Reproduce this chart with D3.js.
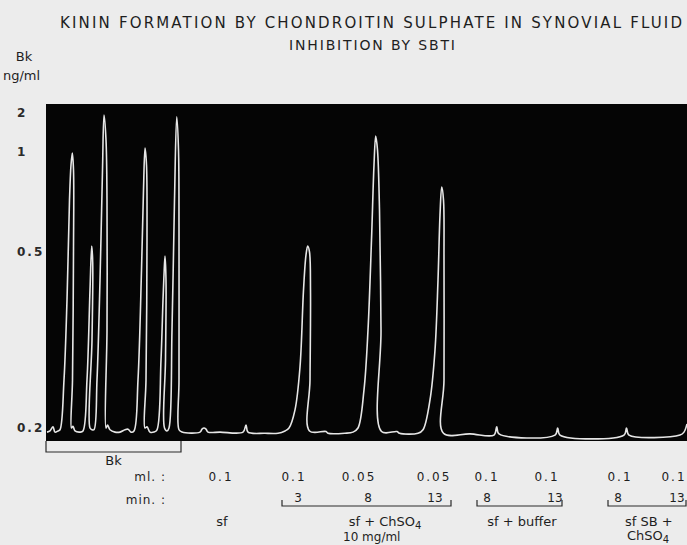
<!DOCTYPE html>
<html>
    <head>
        <title> Kinin formation by chondroitin sulphate in synovial fluid </title>
        <script src="https://d3js.org/d3.v7.min.js"></script>
        <style>
            body { margin: 0; background: #ececec; }
            text { font-family: "DejaVu Sans", sans-serif; fill: #1e1e1e; }
        </style>
    </head>

    <body>

        <div id="Trace"></div>

        <script type="text/javascript">

            // recorder trace: [chart position, Bk ng/ml]
            var trace = [
                [1,0.193],[4,0.195],[7,0.202],[9,0.193],[12,0.195],
                [14,0.197],[18,0.282],[21,0.418],[23.5,0.76],[25,0.935],[26.3,0.995],[27.5,0.91],[27.5,0.51],[26.5,0.282],[25.5,0.2],[27,0.203],[29,0.195],[34,0.193],
                [37,0.195],[41,0.282],[44,0.435],[45.7,0.53],[46.7,0.483],[46,0.35],[44,0.2],[46,0.197],
                [48,0.197],[51,0.282],[54,0.452],[56.5,0.91],[58,1.95],[60,1.31],[61,0.76],[61,0.367],[60,0.2],[61.5,0.205],[64,0.197],[69,0.193],
                [74,0.193],[79,0.197],[82,0.198],[85,0.193],
                [88,0.195],[92,0.282],[95.5,0.469],[97.5,0.81],[99,1.1],[100.5,0.935],[101,0.56],[100,0.282],[99,0.2],[101,0.202],[104,0.193],[108,0.193],
                [111,0.197],[115,0.316],[117,0.418],[118,0.461],[119,0.493],[120,0.452],[119.5,0.316],[118.5,0.2],[121,0.195],
                [123,0.2],[126,0.367],[128.5,0.76],[130.7,1.9],[132.5,1.05],[133,0.61],[133,0.282],[133,0.197],[136,0.193],
                [154,0.193],[156,0.198],[158,0.2],[160,0.198],[162,0.193],[174,0.193],[197,0.193],[200,0.205],[202,0.193],
                [219,0.191],[232,0.191],[239,0.195],
                [243,0.2],[249,0.231],[254,0.304],[257.5,0.435],[260,0.495],[261.7,0.53],[263.5,0.5],[264.5,0.435],[264,0.282],[263.5,0.195],
                [280,0.194],[282,0.191],[299,0.191],[307,0.193],
                [312,0.2],[318,0.265],[322,0.367],[325.5,0.56],[328,0.935],[329.7,1.41],[331.5,1.05],[333.5,0.71],[335,0.367],[335.5,0.194],
                [351,0.194],[353.5,0.191],[372,0.191],
                [377,0.197],[384,0.248],[389,0.333],[392,0.452],[394,0.685],[395.7,0.825],[397.5,0.76],[398,0.486],[398,0.282],[397.5,0.191],
                [424,0.19],[448,0.188],[450.7,0.202],[453,0.19],[509,0.188],[511.7,0.2],[514,0.188],
                [578,0.188],[580.5,0.2],[583,0.188],[634,0.188],[638,0.193],[641,0.207]
            ];

            var yTicks = [0.2, 0.5, 1, 2];
            var yTickLabels = ["0.2", "0.5", "1", "2"];

            var mlValues = ["0.1", "0.1", "0.05", "0.05", "0.1", "0.1", "0.1", "0.1"];
            var mlPos = [175, 248, 313, 388, 441, 501, 574, 628];

            var minValues = ["3", "8", "13", "8", "13", "8", "13"];
            var minPos = [252, 322, 389, 441, 509, 572, 631];
            var minBrackets = [[236, 406], [431, 517], [562, 641]];

            var groupNames = ["sf", "sf + ChSO", "sf + buffer", "sf SB +"];
            var groupPos = [176, 339, 476, 579];
            var bkRange = [0, 135];

            var width = 687, height = 545;

            var svg = d3.select("#Trace")
                .append("svg")
                .attr("width", width)
                .attr("height", height);

            var x = d3.scaleLinear()
                .domain([0, 641])
                .range([46, 687]);

            // the recorder's calibration is not linear
            var y = d3.scaleLinear()
                .domain([0.2, 0.5, 1, 2])
                .range([428, 252, 152, 113]);

            svg.append("rect")
                .attr("x", 46)
                .attr("y", 104)
                .attr("width", width - 46)
                .attr("height", 337)
                .attr("fill", "#050505");

            svg.append("path")
                .datum(trace)
                .attr("fill", "none")
                .attr("stroke", "#e6e6e6")
                .attr("stroke-width", 1.6)
                .attr("stroke-linejoin", "round")
                .attr("d", d3.line()
                    .x(function(d) { return x(d[0]) })
                    .y(function(d) { return y(d[1]) })
                    .curve(d3.curveCatmullRom.alpha(0.5))
                );

            var yAxis = svg.append("g")
                .attr("transform", "translate(17,0)")
                .call(d3.axisLeft(y)
                    .tickValues(yTicks)
                    .tickSize(0)
                    .tickFormat(function(d, i) { return yTickLabels[i] }));
            yAxis.select(".domain").remove();
            yAxis.selectAll("text")
                .attr("x", 0)
                .attr("text-anchor", "start")
                .style("font-size", "12px")
                .style("font-weight", "bold")
                .style("letter-spacing", "2px")
                .style("fill", "#2a2a2a");

            svg.append("text")
                .attr("x", 371).attr("y", 28)
                .attr("text-anchor", "middle")
                .attr("textLength", 622)
                .attr("lengthAdjust", "spacing")
                .style("font-size", "15px")
                .text("KININ FORMATION BY CHONDROITIN SULPHATE IN SYNOVIAL FLUID");

            svg.append("text")
                .attr("x", 372).attr("y", 50)
                .attr("text-anchor", "middle")
                .attr("textLength", 166)
                .attr("lengthAdjust", "spacing")
                .style("font-size", "14px")
                .text("INHIBITION BY SBTI");

            svg.append("text").attr("x", 24).attr("y", 61).attr("text-anchor", "middle").style("font-size", "13px").text("Bk");
            svg.append("text").attr("x", 3).attr("y", 80).style("font-size", "13px").text("ng/ml");

            // Bk bracket under the standards
            svg.append("path")
                .attr("fill", "none")
                .attr("stroke", "#2a2a2a")
                .attr("stroke-width", 1.2)
                .attr("d", "M" + x(bkRange[0]) + ",441V452H" + x(bkRange[1]) + "V441");
            svg.append("text")
                .attr("x", (x(bkRange[0]) + x(bkRange[1])) / 2)
                .attr("y", 465)
                .attr("text-anchor", "middle")
                .style("font-size", "13px")
                .text("Bk");

            svg.append("text").attr("x", 166).attr("y", 481).attr("text-anchor", "end").style("font-size", "12px").style("letter-spacing", "1px").text("ml. :");
            svg.append("text").attr("x", 166).attr("y", 504).attr("text-anchor", "end").style("font-size", "12px").style("letter-spacing", "1px").text("min. :");

            svg.selectAll(".ml")
                .data(mlValues)
                .enter()
                .append("text")
                .attr("class", "ml")
                .attr("x", function(d, i) { return x(mlPos[i]) })
                .attr("y", 481)
                .attr("text-anchor", "middle")
                .style("font-size", "12px")
                .style("letter-spacing", "2px")
                .text(function(d) { return d });

            svg.selectAll(".min")
                .data(minValues)
                .enter()
                .append("text")
                .attr("class", "min")
                .attr("x", function(d, i) { return x(minPos[i]) })
                .attr("y", 502)
                .attr("text-anchor", "middle")
                .style("font-size", "12px")
                .text(function(d) { return d });

            svg.selectAll(".bracket")
                .data(minBrackets)
                .enter()
                .append("path")
                .attr("class", "bracket")
                .attr("fill", "none")
                .attr("stroke", "#2a2a2a")
                .attr("stroke-width", 1.2)
                .attr("d", function(d) { return "M" + x(d[0]) + ",500V506H" + (x(d[1]) - 1) + "V500" });

            svg.selectAll(".group")
                .data(groupNames)
                .enter()
                .append("text")
                .attr("class", "group")
                .attr("x", function(d, i) { return x(groupPos[i]) })
                .attr("y", 526)
                .attr("text-anchor", function(d, i) { return i == 3 ? "start" : "middle" })
                .style("font-size", "13px")
                .text(function(d) { return d })
                .filter(function(d, i) { return i == 1 })
                .append("tspan")
                .attr("dy", 3)
                .style("font-size", "10px")
                .text("4");

            svg.append("text").attr("x", x(297)).attr("y", 541).style("font-size", "12px").text("10 mg/ml");
            var chso = svg.append("text").attr("x", x(581)).attr("y", 540).style("font-size", "13px").text("ChSO");
            chso.append("tspan").attr("dy", 3).style("font-size", "10px").text("4");

        </script>
    </body>
</html>
